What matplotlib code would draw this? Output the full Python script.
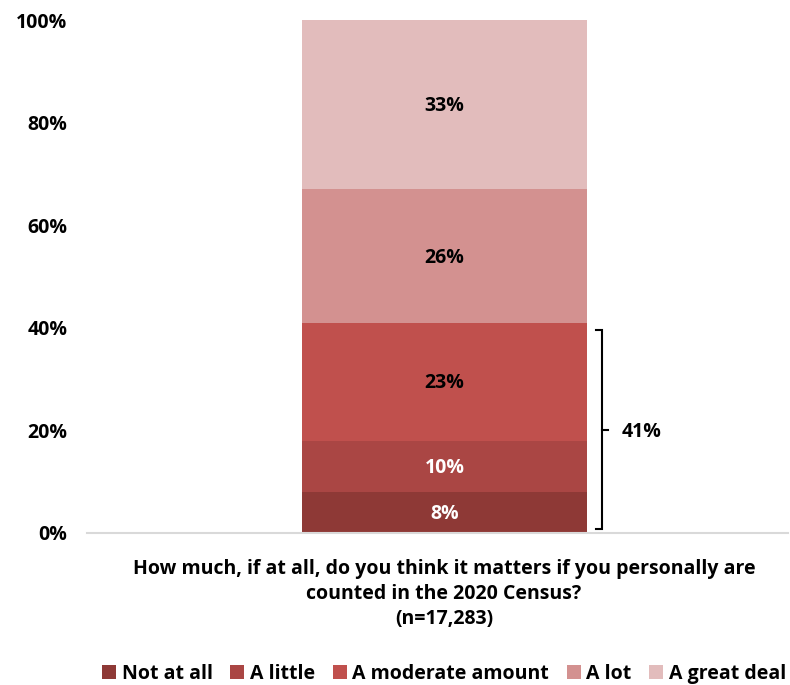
import matplotlib
matplotlib.use("Agg")
import matplotlib.pyplot as plt
from matplotlib.patches import Patch
from matplotlib.ticker import PercentFormatter

plt.rcParams['font.family'] = ['Open Sans', 'DejaVu Sans']
plt.rcParams['font.weight'] = 'bold'

categories = ["Not at all", "A little", "A moderate amount", "A lot", "A great deal"]
values = [8, 10, 23, 26, 33]
colors = ["#8E3936", "#AA4644", "#C0504D", "#D39190", "#E2BCBC"]
label_colors = ["white", "white", "black", "black", "black"]
bracket_label = "41%"
bracket_range = (0, 41)
yticks = [0, 20, 40, 60, 80, 100]
title = "How much, if at all, do you think it matters if you personally are\ncounted in the 2020 Census?\n(n=17,283)"

FS = 14
W, H = 790, 685
fig = plt.figure(figsize=(W / 100, H / 100), dpi=100)
ax = fig.add_axes([87 / W, (H - 533) / H, (788 - 87) / W, 513 / H])

bottom = 0
for v, c, lc, cat in zip(values, colors, label_colors, categories):
    ax.bar(0, v, bottom=bottom, width=1.0, color=c, label=cat, linewidth=0)
    ax.text(0, bottom + v / 2 - 0.3, f"{v}%", ha="center", va="center",
            fontsize=FS, fontweight="bold", color=lc)
    bottom += v

ax.set_xlim(-0.5 - 215 / 285, 0.5 + 201 / 285)
ax.set_ylim(0, 100)
ax.set_yticks(yticks)
ax.yaxis.set_major_formatter(PercentFormatter(decimals=0))
ax.tick_params(axis="y", length=0, pad=14, labelsize=FS)
ax.tick_params(axis="x", length=0)
ax.set_xticks([])
for s in ["top", "right", "left"]:
    ax.spines[s].set_visible(False)
ax.spines["bottom"].set_color("#D9D9D9")
ax.spines["bottom"].set_linewidth(1.5)

# bracket
bx = 0.5 + (602 - 587) / 285
hook = 6 / 285
lo, hi = bracket_range
lo_y = lo + 0.8
hi_y = hi - 1.5
ax.plot([bx - hook, bx, bx, bx - hook], [lo_y, lo_y, hi_y, hi_y],
        color="black", linewidth=1.5, clip_on=False, solid_joinstyle="miter")
mid = (lo_y + hi_y) / 2
ax.plot([bx, bx + hook], [mid, mid], color="black", linewidth=1.5, clip_on=False)
ax.text(bx + 20 / 285, mid - 0.4, bracket_label, ha="left", va="center",
        fontsize=FS, fontweight="bold")

fig.text(444 / W, 1 - 594 / H, title, ha="center", va="center",
         fontsize=FS, fontweight="bold", linespacing=1.35)

handles = [Patch(facecolor=c, label=cat) for c, cat in zip(colors, categories)]
fig.legend(handles=handles, loc="center", bbox_to_anchor=(444 / W, 1 - 674 / H),
           ncol=5, frameon=False, fontsize=FS, handlelength=0.72,
           handleheight=0.72, handletextpad=0.3, columnspacing=0.9)

fig.savefig("out.png", dpi=100)
